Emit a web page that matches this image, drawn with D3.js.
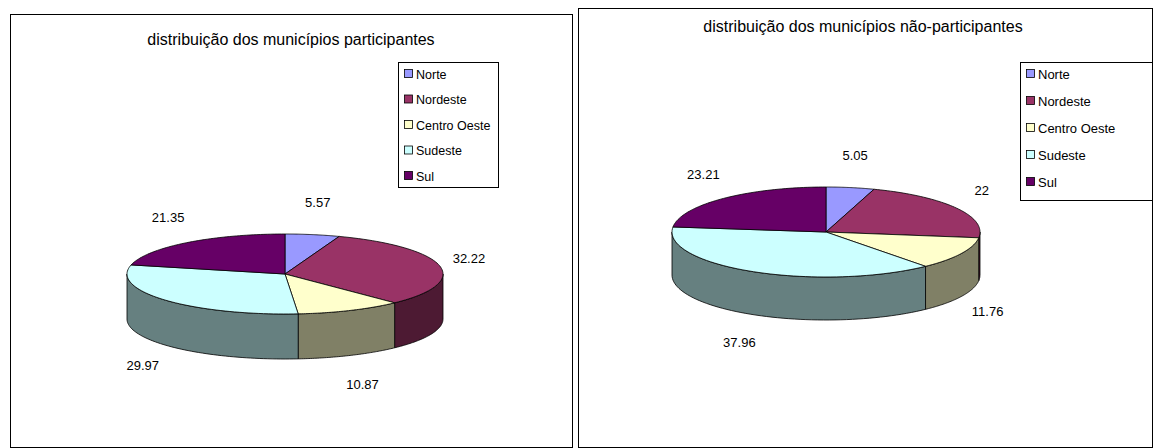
<!DOCTYPE html><html><head><meta charset="utf-8">
<script src="https://cdn.jsdelivr.net/npm/d3@7"></script>
<style>body{margin:0;background:#fff}svg{font-family:"Liberation Sans",Arial,sans-serif}</style></head><body>
<svg id="s" width="1159" height="448"></svg>
<script>
const categories=["Norte","Nordeste","Centro Oeste","Sudeste","Sul"];
const participantes=[5.57,32.22,10.87,29.97,21.35];
const naoParticipantes=[5.05,22,11.76,37.96,23.21];
const titles=["distribuição dos municípios participantes","distribuição dos municípios não-participantes"];
const topColors=["#9999FF","#993366","#FFFFCC","#CCFFFF","#660066"];
const sideColors=["#4D4D80","#4D1A33","#808066","#668080","#330033"];
const svg=d3.select("#s");
const charts=[
 {vals:participantes,title:titles[0],frame:[10,14,562,433],tx:291,ty:45,cx:285,cy:274,rx:158,ry:40,d:45,lg:[398,62,100,125],ls:25.5,fs:12.5},
 {vals:naoParticipantes,title:titles[1],frame:[578,8,574,439],tx:863,ty:32,cx:826,cy:232,rx:154,ry:45,d:43,lg:[1020,62,132,138],ls:27,fs:13}
];
charts.forEach(c=>{
 const g=svg.append("g");
 g.append("rect").attr("x",c.frame[0]+.5).attr("y",c.frame[1]+.5).attr("width",c.frame[2]).attr("height",c.frame[3]).attr("fill","#fff").attr("stroke","#000");
 g.append("text").attr("x",c.tx).attr("y",c.ty).attr("text-anchor","middle").attr("font-size",16).text(c.title);
 const pie=d3.pie().sort(null).value(v=>v)(c.vals);
 const P=(t,dy)=>[c.cx+c.rx*Math.sin(t),c.cy-c.ry*Math.cos(t)+dy];
 const arcPts=(a0,a1,dy)=>{const n=60,pts=[];for(let i=0;i<=n;i++)pts.push(P(a0+(a1-a0)*i/n,dy));return pts;};
 pie.forEach((p,i)=>{
  const a0=Math.max(p.startAngle,Math.PI/2),a1=Math.min(p.endAngle,3*Math.PI/2);
  if(a1<=a0)return;
  const top=arcPts(a0,a1,0),bot=arcPts(a0,a1,c.d).reverse();
  g.append("path").attr("d",d3.line()(top.concat(bot))+"Z").attr("fill",sideColors[i]).attr("stroke","#000").attr("stroke-width",0.8);
 });
 pie.forEach((p,i)=>{
  const pts=[[c.cx,c.cy]].concat(arcPts(p.startAngle,p.endAngle,0));
  g.append("path").attr("d",d3.line()(pts)+"Z").attr("fill",topColors[i]).attr("stroke","#000").attr("stroke-width",0.8);
 });
 pie.forEach((p,i)=>{
  const m=(p.startAngle+p.endAngle)/2;
  const x=c.cx+(c.rx+30)*Math.sin(m),y=c.cy-(c.ry+32)*Math.cos(m)+(Math.cos(m)<0?c.d:0)+4;
  g.append("text").attr("x",x).attr("y",y).attr("text-anchor","middle").attr("font-size",13).text(c.vals[i]);
 });
 const [lx,ly,lw,lh]=c.lg;
 g.append("rect").attr("x",lx+.5).attr("y",ly+.5).attr("width",lw).attr("height",lh).attr("fill","#fff").attr("stroke","#000");
 categories.forEach((k,i)=>{
  const y=ly+12+i*c.ls;
  g.append("rect").attr("x",lx+6.5).attr("y",y-4.5).attr("width",8).attr("height",8).attr("fill",topColors[i]).attr("stroke","#000").attr("stroke-width",0.8);
  g.append("text").attr("x",lx+18).attr("y",y+4.5).attr("font-size",c.fs).text(k);
 });
});
</script></body></html>
